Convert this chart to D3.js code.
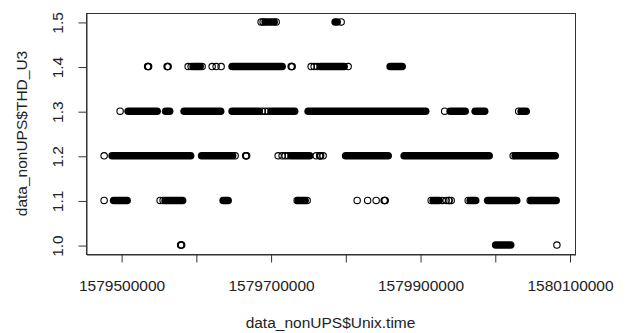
<!DOCTYPE html>
<html>
<head>
<meta charset="utf-8">
<script src="https://cdn.jsdelivr.net/npm/d3@7/dist/d3.min.js"></script>
<style>
  body { margin: 0; background: #fff; }
  text { font-family: "Liberation Sans", Arial, sans-serif; }
</style>
</head>
<body>
<div id="chart"></div>
<script>
// dense stretches of readings: [THD_U3, first Unix.time, last Unix.time]
const runs = [
  [1.5, 1579692720, 1579704760], [1.5, 1579786400, 1579789070],
  [1.4, 1579596360, 1579605730], [1.4, 1579648550, 1579715470], [1.4, 1579766320, 1579798440],
  [1.4, 1579860000, 1579876060],
  [1.3, 1579509370, 1579548180], [1.3, 1579559555, 1579564910], [1.3, 1579584310, 1579633160],
  [1.3, 1579648550, 1579684690], [1.3, 1579700750, 1579732200], [1.3, 1579750260, 1579907510],
  [1.3, 1579940300, 1579960380], [1.3, 1579973760, 1579986470], [1.3, 1580035320, 1580042010],
  [1.2, 1579487955, 1579593010], [1.2, 1579607730, 1579649220], [1.2, 1579727510, 1579752270],
  [1.2, 1579800450, 1579857330], [1.2, 1579878740, 1579992490], [1.2, 1580027290, 1580080820],
  [1.1, 1579489960, 1579508030], [1.1, 1579558885, 1579582300], [1.1, 1579636510, 1579643200],
  [1.1, 1579736880, 1579746250], [1.1, 1579917550, 1579925580], [1.1, 1579967070, 1579974430],
  [1.1, 1579990490, 1580029300], [1.1, 1580048700, 1580082160],
  [1.0, 1580001190, 1580021270]
];

// single readings: [THD_U3, Unix.time]
const points = [
  [1.5, 1579687360], [1.5, 1579690040], [1.5, 1579707440], [1.5, 1579794430],
  [1.4, 1579535460], [1.4, 1579536130], [1.4, 1579536800],
  [1.4, 1579561560], [1.4, 1579562230], [1.4, 1579562900],
  [1.4, 1579589670], [1.4, 1579593680], [1.4, 1579608400],
  [1.4, 1579621790], [1.4, 1579627140], [1.4, 1579633830],
  [1.4, 1579727510], [1.4, 1579728180], [1.4, 1579728850],
  [1.4, 1579754280], [1.4, 1579758290], [1.4, 1579762310], [1.4, 1579803790],
  [1.3, 1579498660], [1.3, 1579688700], [1.3, 1579692720], [1.3, 1579696730],
  [1.3, 1579932940], [1.3, 1580031970],
  [1.2, 1579477250], [1.2, 1579652570],
  [1.2, 1579666620], [1.2, 1579667290], [1.2, 1579667960],
  [1.2, 1579710110], [1.2, 1579715470], [1.2, 1579719480], [1.2, 1579723500],
  [1.2, 1579760970], [1.2, 1579765650], [1.2, 1579766320], [1.2, 1579766990], [1.2, 1579770340],
  [1.2, 1580024610],
  [1.1, 1579477250], [1.1, 1579552190], [1.1, 1579556210],
  [1.1, 1579735540], [1.1, 1579748920],
  [1.1, 1579815840], [1.1, 1579829890], [1.1, 1579841270],
  [1.1, 1579851970], [1.1, 1579852640], [1.1, 1579853310],
  [1.1, 1579914870], [1.1, 1579929590], [1.1, 1579934950],
  [1.1, 1579938290], [1.1, 1579938960], [1.1, 1579941640],
  [1.1, 1579964390], [1.1, 1580047370],
  [1.0, 1579579630], [1.0, 1579580300], [1.0, 1579580970], [1.0, 1580083100]
];

const xTicks = [1579500000, 1579600000, 1579700000, 1579800000, 1579900000, 1580000000, 1580100000];
const xLabelled = [1579500000, 1579700000, 1579900000, 1580100000];
const yTicks = [1.0, 1.1, 1.2, 1.3, 1.4, 1.5];
const xTitle = "data_nonUPS$Unix.time";
const yTitle = "data_nonUPS$THD_U3";

const width = 629, height = 333;
const plot = { left: 86, right: 575, top: 13, bottom: 254 };

let svg = d3.select("#chart").append("svg")
            .attr("width", width)
            .attr("height", height);

// R style: pad the data range by 4% on each side
let allTimes = runs.flatMap(d => [d[1], d[2]]).concat(points.map(d => d[1]));
let allVals = runs.map(d => d[0]).concat(points.map(d => d[0]));
let [tMin, tMax] = d3.extent(allTimes);
let [vMin, vMax] = d3.extent(allVals);
let tPad = (tMax - tMin) * 0.04, vPad = (vMax - vMin) * 0.04;

let xScale = d3.scaleLinear().domain([tMin - tPad, tMax + tPad]).range([plot.left, plot.right]);
let yScale = d3.scaleLinear().domain([vMin - vPad, vMax + vPad]).range([plot.bottom, plot.top]);

const r = 3.2;

let g = svg.append("g");

g.selectAll("line.run")
  .data(runs)
  .enter()
  .append("line")
  .attr("class", "run")
  .attr("x1", d => xScale(d[1]))
  .attr("x2", d => xScale(d[2]))
  .attr("y1", d => yScale(d[0]))
  .attr("y2", d => yScale(d[0]))
  .attr("stroke", "#000")
  .attr("stroke-width", 2 * r + 1.2)
  .attr("stroke-linecap", "round");

g.selectAll("circle")
  .data(points)
  .enter()
  .append("circle")
  .attr("cx", d => xScale(d[1]))
  .attr("cy", d => yScale(d[0]))
  .attr("r", r)
  .attr("fill", "none")
  .attr("stroke", "#000")
  .attr("stroke-width", 1.1);

// box
svg.append("rect")
  .attr("x", plot.left + 0.5)
  .attr("y", plot.top + 0.5)
  .attr("width", plot.right - plot.left)
  .attr("height", plot.bottom - plot.top)
  .attr("fill", "none")
  .attr("stroke", "#333");

let xAxis = svg.append("g")
  .attr("transform", `translate(0.5, ${plot.bottom + 0.5})`)
  .call(d3.axisBottom(xScale)
    .tickValues(xTicks)
    .tickSize(8)
    .tickSizeOuter(0)
    .tickFormat(d => xLabelled.includes(d) ? d3.format("d")(d) : ""));

let yAxis = svg.append("g")
  .attr("transform", `translate(${plot.left + 0.5}, 0.5)`)
  .call(d3.axisLeft(yScale)
    .tickValues(yTicks)
    .tickSize(8)
    .tickSizeOuter(0)
    .tickFormat(d3.format(".1f")));

[xAxis, yAxis].forEach(ax => {
  ax.select(".domain").attr("stroke", "#333");
  ax.selectAll(".tick line").attr("stroke", "#333");
  ax.selectAll("text")
    .style("font-size", "15.5px")
    .style("font-family", "'Liberation Sans', Arial, sans-serif")
    .attr("fill", "#222");
});

xAxis.selectAll("text").attr("y", 36).attr("dy", null);

// rotated y tick labels, as R draws them
yAxis.selectAll(".tick text")
  .attr("x", null)
  .attr("dy", null)
  .attr("text-anchor", "middle")
  .attr("transform", "translate(-24, 0) rotate(-90)");

svg.append("text")
  .attr("x", (plot.left + plot.right) / 2)
  .attr("y", 328)
  .attr("text-anchor", "middle")
  .style("font-size", "15.5px")
  .attr("fill", "#222")
  .text(xTitle);

svg.append("text")
  .attr("transform", `translate(27, ${(plot.top + plot.bottom) / 2}) rotate(-90)`)
  .attr("text-anchor", "middle")
  .style("font-size", "15.5px")
  .attr("fill", "#222")
  .text(yTitle);
</script>
</body>
</html>
